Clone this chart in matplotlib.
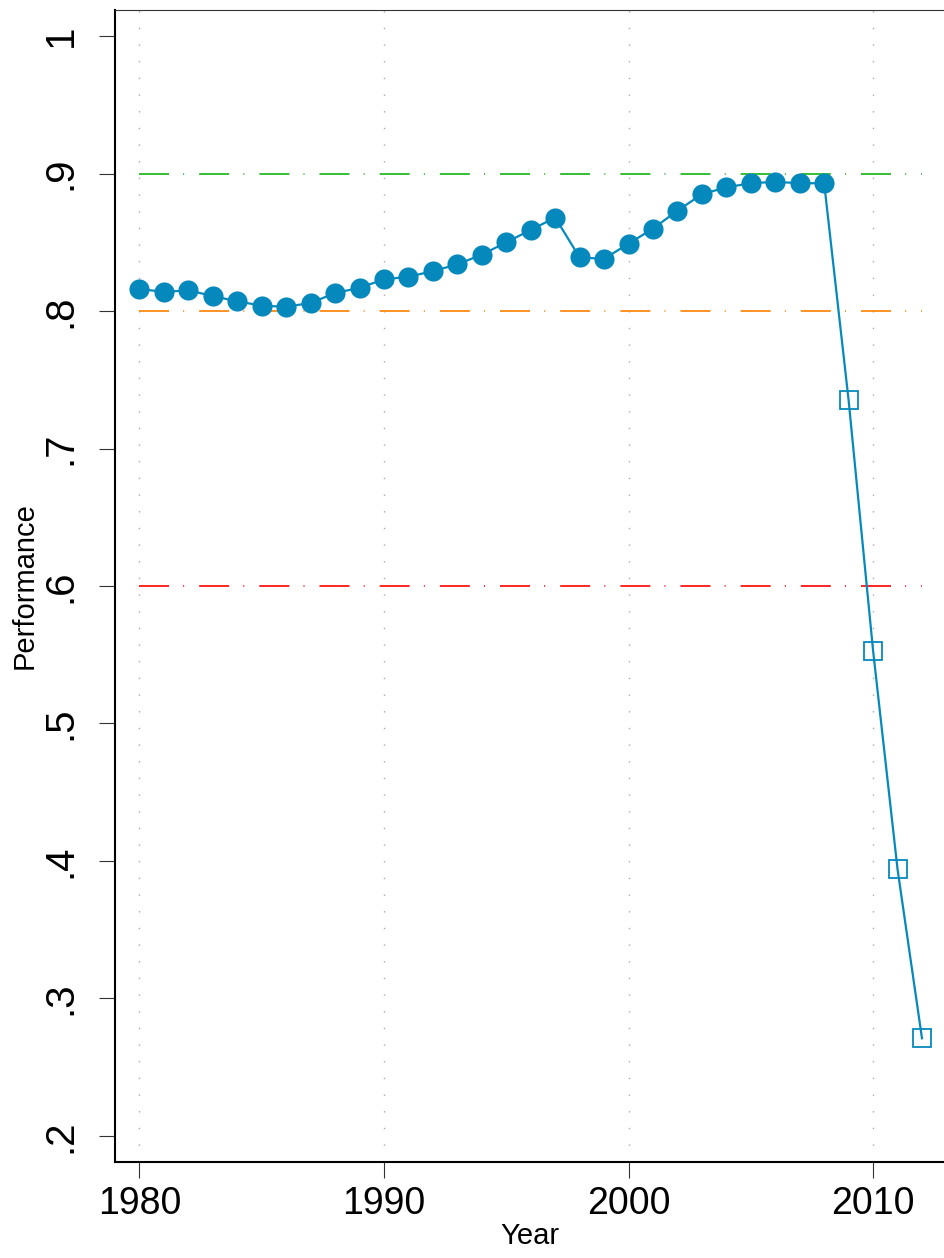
import matplotlib
matplotlib.use("Agg")
import matplotlib.pyplot as plt

# 观测值 (实心圆) 与 预测值 (空心方块)
years_obs = [1980, 1981, 1982, 1983, 1984, 1985, 1986, 1987, 1988, 1989,
             1990, 1991, 1992, 1993, 1994, 1995, 1996, 1997, 1998, 1999,
             2000, 2001, 2002, 2003, 2004, 2005, 2006, 2007, 2008]
perf_obs = [0.816, 0.814, 0.815, 0.811, 0.807, 0.804, 0.803, 0.806, 0.813, 0.817,
            0.823, 0.825, 0.829, 0.834, 0.841, 0.850, 0.859, 0.868, 0.839, 0.838,
            0.849, 0.860, 0.873, 0.885, 0.890, 0.893, 0.894, 0.893, 0.893]
years_proj = [2009, 2010, 2011, 2012]
perf_proj = [0.735, 0.553, 0.394, 0.271]

thresholds = [0.9, 0.8, 0.6]
threshold_colors = ["#13b313", "#ff8000", "#ff0000"]

yticks = [0.2, 0.3, 0.4, 0.5, 0.6, 0.7, 0.8, 0.9, 1.0]
ytick_labels = [".2", ".3", ".4", ".5", ".6", ".7", ".8", ".9", "1"]
xticks = [1980, 1990, 2000, 2010]

blue = "#0589bc"
font = ["Liberation Sans", "DejaVu Sans"]

fig = plt.figure(figsize=(9.44, 12.58), dpi=100)
ax = fig.add_axes([115 / 944, 96 / 1258, 829 / 944, 1152 / 1258])

# 阈值线 (点划线)
for thr, col in zip(thresholds, threshold_colors):
    ax.hlines(thr, years_obs[0], years_proj[-1], colors=col, linewidth=1.2,
              linestyles=(0, (18, 8.5, 0.6, 9)), zorder=2)

# 连线 + 标记
ax.plot(years_obs + years_proj, perf_obs + perf_proj, color=blue, linewidth=1.6, zorder=3)
ax.plot(years_obs, perf_obs, "o", color=blue, markersize=14.5, markeredgewidth=0, zorder=4)
ax.plot(years_proj, perf_proj, "s", markerfacecolor="none", markeredgecolor=blue,
        markersize=13, markeredgewidth=1.3, zorder=4)

ax.set_xlim(1979.0, 2012.9)
ax.set_ylim(0.181, 1.019)

ax.set_xticks(xticks)
ax.set_xticklabels([str(x) for x in xticks], family=font, fontsize=27)
ax.set_yticks(yticks)
ax.set_yticklabels(ytick_labels, family=font, fontsize=29, rotation=90, va="center")
ax.tick_params(axis="both", direction="out", length=11.5, width=0.8, color="#333333")
ax.tick_params(axis="y", pad=14)
ax.tick_params(axis="x", pad=6)

# 竖向点状网格
ax.xaxis.grid(True, linestyle=(0, (1, 11)), color="#aaaaaa", linewidth=1.0)
ax.yaxis.grid(False)
ax.set_axisbelow(True)

ax.spines["right"].set_visible(False)
ax.spines["left"].set_linewidth(1.5)
ax.spines["bottom"].set_linewidth(1.5)
ax.spines["top"].set_linewidth(0.8)
ax.spines["top"].set_color("#333333")

ax.set_xlabel("Year", family=font, fontsize=21, labelpad=0)
ax.set_ylabel("Performance", family=font, fontsize=21, labelpad=2)

fig.savefig("out.png", dpi=100)
